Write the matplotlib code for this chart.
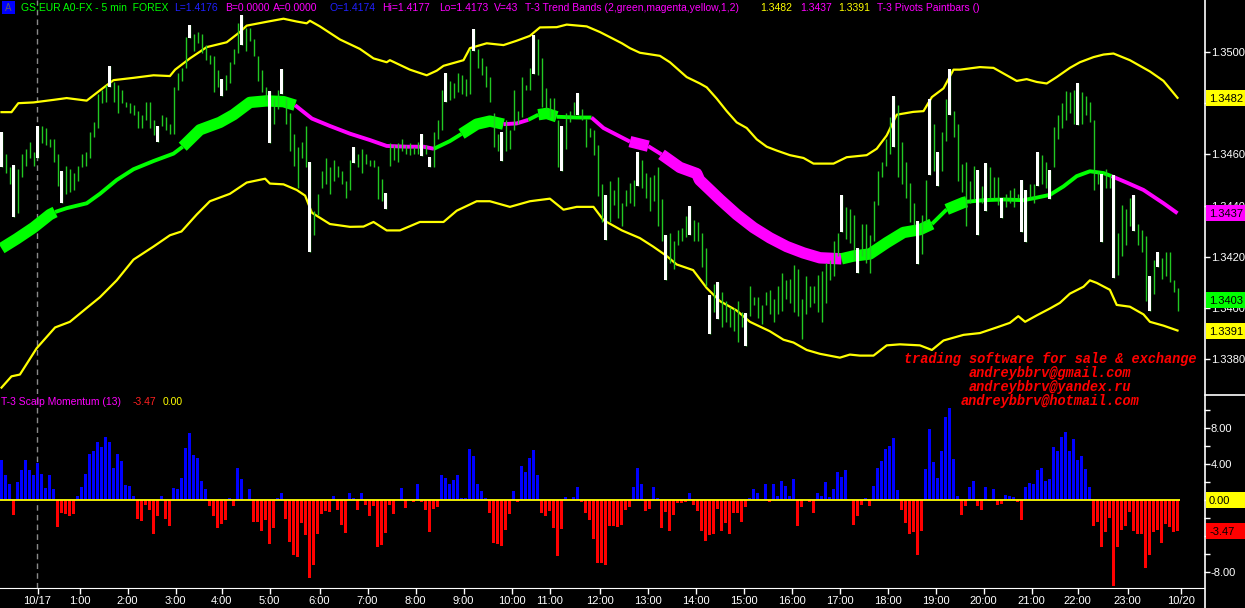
import matplotlib
matplotlib.use("Agg")
import matplotlib.pyplot as plt
from matplotlib.patches import Rectangle
import numpy as np

plt.rcParams['font.family'] = ['Liberation Sans', 'DejaVu Sans']

# ---------------- data (prices in pips relative to BASE) ----------------
BASE = 1.3400
HIGH = [68.9, 60, 54.9, 55.9, 54.2, 60, 62.2, 64.7, 60.8, 71.1,
        71.1, 70.3, 65.9, 65.9, 60, 53.4, 55.6, 54.2, 52.7, 55.6,
        60, 60.8, 68.9, 72.5, 83.5, 85, 87.2, 94.6, 88.3, 87.2,
        85, 80.6, 79.9, 79.1, 76.9, 75.5, 80.6, 80.6, 73.3, 71.1,
        75.5, 74.7, 71.8, 86.5, 91.6, 93.8, 105.9, 110.7, 107.1, 107.8,
        107.1, 102.7, 99, 98.3, 93.1, 89.4, 90.9, 96, 101.2, 111.5,
        114.4, 109.3, 109.3, 104.9, 98.3, 93.1, 86.5, 84.6, 82.1, 85,
        93.5, 82.1, 76.2, 68.1, 63, 64.7, 71.1, 57.1,
        38, 44.6, 53.4, 58.6, 54.9, 57.8, 55.6, 53.4, 49.7, 57.8,
        63, 60, 62.2, 60, 57.8, 57.8, 55.6, 50.5, 45, 64.4,
        63.7, 64.4, 65.9, 63.7, 64.4, 63, 64.7, 68.1, 63.7, 58.9,
        68.9, 73.3, 85, 91.6, 88.7, 88, 91.6, 90.9, 89.4, 101.2,
        108.8, 101.2, 97.5, 94.6, 90.2, 76.2, 68.1, 68.9, 73.3, 69.6,
        85, 76.9, 90.2, 87.2, 93.8, 106.8, 104.9, 97.5, 85.8, 82.1,
        82.1, 73.3, 71.1, 76.2, 76.9, 80.6, 83.8, 77.7, 74, 70.3,
        69.6, 63.7, 48.3, 44.2, 49.7, 46.1, 51.2, 40.9,
        46.1, 49, 50, 60.8, 57.8, 52.7, 51.2, 52, 54.9, 42.4,
        28.7, 29.2, 26.2, 30.6, 31.4, 35.8, 39.7, 34.3, 33.6, 29.2,
        23.3, 4.9, 9.3, 10.1, 6.4, 2.7, 0.5, -0.2, 2.7, -1.7,
        -2, 8.6, 4.2, 4.2, 1, 6.4, 7.1, 3.4, 8.6, 13.7,
        10.8, 11.5, 16.7, 15.2, 3.4, 12.3, 8.6, 8.6, 13, 14.5,
        17.4, 18.9, 26.2, 29.2, 44.2, 39.5, 38.7, 36.5, 23.3, 32.8,
        32.8, 28.4, 41.7, 53.4, 57.1, 65.9, 74.7, 82.8, 79.1, 64.7,
        57.1, 49, 40.9, 33.9, 36.5, 50, 81.8,
        71.8, 60.8, 68.9, 81.8, 93.5, 76.9, 71.8, 56.4, 57.1, 49.7,
        55.6, 53.9, 47.5, 56.8, 54.9, 51.2, 51.2, 43.1, 44.6, 46.1,
        46.8, 44.6, 50, 46.1, 48.3, 48.3, 60.8, 59.7, 57.1, 53.9,
        70.6, 75.5, 79.9, 84.6, 84.3, 85, 88, 84.3, 82.8, 80.6,
        73.3, 53.4, 52.4, 54.2, 51.2, 51.9, 29.2, 40.2, 38.7, 43.1,
        44.2, 32.8, 30.6, 28, 12.3, 18.9, 21.8, 19.6, 21.8, 21.8,
        10.8, 7.9]
LOW = [54.9, 52.7, 48.3, 35.5, 37.3, 51.2, 55.6, 58.6, 55.6, 58.6,
       64.4, 63.7, 63, 57.1, 47.5, 40.9, 44.6, 45.3, 46.1, 49.7,
       54.9, 55.6, 58.6, 66.6, 70.3, 79.9, 80.6, 86.5, 80.6, 76.2,
       79.9, 78.4, 76.2, 75.5, 70.3, 70.3, 73.3, 70.3, 67.4, 64.7,
       71.1, 69.6, 68.1, 68.1, 85, 88.7, 93.8, 105.6, 100.5, 103.4,
       99.7, 96.8, 95.3, 84.3, 86.5, 82.8, 85, 88, 95.3, 99.7,
       102.7, 100.5, 104.1, 98.3, 88.7, 84.3, 81.3, 64.4, 71.8, 77.7,
       83.5, 71.8, 61.5, 55.6, 46.8, 58.6, 54.9, 21.8,
       28.4, 36.5, 46.8, 48.3, 44.6, 49.7, 51.2, 48.3, 43.1, 46.1,
       56.8, 54.9, 52.7, 56.3, 55.6, 54.9, 42.4, 41.7, 38.7, 55.6,
       57.8, 57.1, 61.5, 60, 59.7, 60, 60, 59.3, 60, 54.9,
       54.9, 65.9, 69.6, 80.6, 81.3, 82.1, 84.3, 83.5, 82.8, 83.5,
       100.5, 93.8, 90.9, 86.5, 80.6, 63, 61.5, 57.4, 61.5, 62.2,
       69.6, 71.8, 74.7, 85, 85, 91.3, 90.9, 78.4, 77.7, 74.7,
       73.3, 54.9, 53.7, 62.2, 72.5, 75.5, 75.5, 73.3, 63, 66.6,
       59.7, 43.9, 33.6, 26.7, 33.6, 40.2, 35, 32.1,
       39.7, 40.9, 39.7, 47.8, 46.8, 43.1, 38, 41.7, 32.1, 26.2,
       10.8, 17.4, 15.2, 24.7, 26.2, 27.7, 28.4, 26.2, 26.2, 15.9,
       8.6, -10.2, -1.7, -4.4, -7.6, -5.4, -7.6, -9.1, -13.2, -7.6,
       -14.9, -3.2, 1.2, -3.9, -6.1, 1.2, -2.5, -5.4, -2.5, -1,
       3.4, 2, -1.7, -3.2, -12, -2.5, 0.5, 2, -1.7, -5.4,
       2, 10.8, 12.3, 20.3, 29.6, 27, 25.5, 18.9, 13.7, 20.3,
       17.4, 13.7, 26.2, 40.2, 51.2, 55.6, 60, 62.7, 51.2, 48.3,
       43.1, 33.6, 32.1, 17, 21.1, 33.6, 52,
       53.4, 47.8, 53.4, 65.2, 75.5, 66.6, 49.7, 45.3, 32.1, 40.9,
       42.4, 28.4, 40.9, 37.7, 42.4, 43.1, 40.2, 35, 39.5, 40.9,
       39.5, 42.4, 29.6, 25.9, 43.1, 40.9, 47.8, 48.3, 46.8, 42.4,
       54.9, 65.9, 70.3, 73.3, 76.2, 71.8, 71.5, 71.8, 75.5, 72.5,
       46.1, 48.3, 25.8, 46.8, 46.8, 11.8, 13, 20.3, 24.7, 32.1,
       29.9, 24.7, 21.8, 2.7, -1, 5.6, 15.9, 11.5, 12.3, 10.1,
       6.4, -1]
PAINTBARS = [0, 3, 9, 15, 27, 39, 47, 55, 60, 67, 70, 77, 88, 96, 105, 107,
             111, 118, 125, 133, 140, 144, 151, 159, 166, 172, 177, 179, 186,
             210, 214, 223, 229, 232, 234, 237, 244, 246, 250, 255, 256, 259,
             262, 269, 275, 278, 283, 287, 289]

UP_X = [0, 2.5, 4.2, 8, 13, 16.3, 21.3, 24.6, 28, 33, 38, 42.1, 43.4, 47.1, 51.3,
        56.3, 59.6, 61.3, 66.3, 70.5, 73.8, 76.3, 77.1, 79.6, 84.6, 89.6, 93, 96.3,
        97.1, 102.1, 106.3, 108.8, 110.5, 115.5, 117.1, 121.3, 125.5, 128.8, 132.1,
        134.6, 138.8, 141.3, 146.3, 149.6, 155.1, 157.1, 159.6, 164.6, 167.1, 171.3,
        174.6, 176.3, 178.8, 181.3, 183.8, 186.3, 188.8, 191.3, 193.8, 197.1, 200.5,
        203, 208, 211.3, 216.3, 218.8, 221.3, 223.8, 227.9, 230.5, 232.6, 235.5, 238,
        239.6, 244.6, 248, 252.1, 253.8, 256.3, 258.8, 261.3, 263.8, 267.1, 269.6,
        273, 275.5, 278, 282.1, 287.1, 290.5, 294]
UP_P = [76.5, 76.5, 80, 80.3, 81.3, 82, 81, 85, 89, 89.9, 90.9, 90.6, 93.1, 97.5,
        101.9, 103.8, 107.8, 110.3, 111.8, 113, 111.9, 111.2, 112.2, 110, 104.9,
        101.2, 97.5, 96, 96.8, 93.1, 90.9, 92.7, 94.6, 96.8, 101.5, 103.4, 102.7,
        104.4, 106.3, 109.6, 109.7, 110.7, 110, 107.8, 103.4, 101.5, 99.7, 98.5, 96,
        90.2, 87.7, 86.2, 81.8, 76.9, 72.5, 70.3, 65.9, 63, 61.5, 59.7, 58.6, 56.4,
        56.4, 58.9, 59.7, 62.2, 67.4, 75.5, 76.6, 76.9, 82.4, 85.8, 93.1, 93.1, 94.1,
        93.8, 90.2, 88.7, 89.4, 88.3, 87.7, 90.2, 93.8, 96, 98, 99, 99.4, 96.8, 92.4,
        88.7, 82.1]
LO_X = [0, 2.5, 4.6, 8.8, 13.4, 17.1, 21.3, 24.6, 28.8, 33, 38, 42.1, 45, 48.8, 52.1,
        57.1, 61.3, 65.9, 67.1, 70.5, 73.8, 75.9, 77.6, 82.1, 87.1, 90.5, 93, 96.3,
        99.6, 104.6, 110.5, 113.8, 118.8, 122.1, 127.1, 132.1, 137.1, 140.5, 143.8,
        148, 150.5, 155.1, 159.6, 162.9, 166.3, 168.8, 172.9, 176.3, 179.6, 183.8,
        187.1, 192.1, 195.5, 198, 201.3, 204.6, 209.6, 212.1, 214.6, 218, 221.3,
        224.6, 229.6, 232.6, 235.5, 240.5, 244.6, 248.8, 252.1, 254.2, 255.9, 258.8,
        262.1, 264.6, 267.1, 270.5, 272.1, 273.8, 277.1, 278.8, 282.1, 285.5, 287.1,
        290.5, 294]
LO_P = [-31.1, -26.7, -26, -15.7, -7.6, -5.4, 0, 4.2, 10.8, 18.9, 24, 28.4, 29.9,
        36.5, 41.7, 44.6, 49, 50.5, 48.6, 48.3, 46.1, 43.9, 37.2, 32.8, 31.7, 31.8,
        33.6, 30.3, 30.3, 33.6, 33.6, 38, 41.7, 41.7, 39.5, 41.7, 42.7, 38.4, 39.5,
        39.5, 34.3, 30.3, 27.3, 24, 20.3, 17, 14.8, 7.8, 2.7, -1, -5.4, -9.1, -12.4,
        -13.5, -16.4, -17.9, -19.4, -18.2, -18.6, -18.6, -14.6, -14.2, -14.6, -16.4,
        -12.7, -10.5, -9.8, -7.6, -5.8, -3.2, -5.4, -2.9, -0.2, 2, 5.6, 8.3, 10.8,
        9.8, 7.1, 1.2, 0.5, -2.5, -5.4, -6.9, -8.8]
MID_X = [0, 3.8, 8, 12.1, 13.4, 16.3, 21.3, 24.6, 28.8, 33, 38, 43, 45.3, 49.6, 54.6,
         58, 62.1, 66.3, 70.5, 73.4, 77.6, 82.1, 87.1, 92.1, 96.3, 101.4, 105.5, 108.1,
         112.1, 115, 118.8, 122.1, 125.5, 128.8, 131.7, 134.2, 136.3, 138.8, 143.8,
         147.5, 150.5, 155.1, 157.1, 161.7, 165, 169.6, 173.8, 174.5, 179.6, 183.8,
         188, 192.1, 196.3, 200.5, 204.6, 210, 213, 217.1, 221.3, 225.5, 229.6, 232.6,
         236.3, 240.5, 241.3, 245.5, 250.5, 255.5, 258.8, 262.1, 265.5, 268.8, 272.1,
         275.5, 277.5, 281.3, 285.5, 290.5, 294]
MID_P = [23.3, 27, 31.4, 36.5, 37.5, 39, 40.9, 44.6, 50, 54.2, 57.4, 60.3, 63, 69.6,
         72.5, 75.5, 80.3, 80.9, 80.6, 79.2, 74, 71.1, 68.1, 65.6, 63.3, 63, 63, 62.2,
         65.2, 68, 71.8, 73, 71.8, 72.1, 73.5, 75.5, 76, 74.7, 74.4, 74.4, 70.3, 66.6,
         65, 63.2, 60, 54.9, 52.5, 50, 42.4, 36.5, 31.4, 27.4, 24, 21.5, 19.6, 19.2,
         20.3, 21.1, 25.5, 29.5, 30.6, 32.8, 38.5, 41.2, 41.5, 42.1, 42.4, 42.1, 43.1,
         44.2, 47.5, 51.5, 53.4, 52.7, 51.5, 49, 46.1, 40.9, 37]
# trend state of the middle band from a given bar on: G=up, M=down, T=strong
MID_STATE = [(0, 'GT'), (13.4, 'G'), (45.3, 'GT'), (73.4, 'M'), (108.1, 'G'),
             (115, 'GT'), (125.5, 'M'), (131.7, 'G'), (134.2, 'GT'), (138.8, 'G'),
             (147.5, 'M'), (157.1, 'MT'), (161.7, 'M'), (165, 'MT'), (210, 'GT'),
             (232.6, 'G'), (236.3, 'GT'), (241.3, 'G'), (277.5, 'M')]

MOMENTUM = [4.4, 2.8, 1.8, -1.7, 2.0, 3.3, 4.5, 3.3, 2.8, 4.1, 2.9, 1.3, 2.8, 1.2,
            -3.0, -1.4, -1.5, -1.8, -1.5, 0.4, 1.4, 2.9, 5.1, 5.4, 6.5, 5.9, 7.0, 6.5,
            3.6, 5.1, 4.3, 1.7, 1.6, 0.4, -2.1, -2.3, -0.5, -1.1, -3.8, -1.8, 0.4,
            -2.1, -2.9, 1.3, 1.2, 2.5, 5.8, 7.5, 5.0, 4.7, 2.1, 1.2, -0.7, -1.8, -3.1,
            -2.7, -2.2, 0.25, -0.7, 3.6, 2.3, 0, 1.2, -2.4, -2.4, -3.4, -2.2, -4.9,
            -3.1, 0.25, 0.8, -2.1, -4.7, -6.1, -6.3, -2.5, -3.9, -8.7,
            -7.2, -3.8, -1.5, -1.2, -1.3, 0.4, -1.1, -2.8, -3.7, 0.75, 0.2, -1.1, 0.8,
            -0.6, -1.8, -0.7, -5.2, -5.0, -3.7, -0.6, -1.5, 0, 1.3, -0.9, 0, -0.2, 1.8,
            -0.2, -1.1, -3.6, -1.0, -0.8, 2.8, 2.5, 1.8, 2.2, 2.8, 0.2, 0.2, 5.7, 4.9,
            1.8, 1.0, 0.2, -1.4, -4.8, -4.9, -5.1, -3.3, -1.5, 1.0, -0.2, 3.8, 3.1, 4.7,
            5.6, 2.8, -1.4, -1.8, -1.2, -3.1, -6.2, -3.2, 0.3, 0, 0.3, 1.5, -0.2, -1.4,
            -2.2, -4.3, -7.0, -7.0, -7.2, -2.9, -2.9, -3.0, -2.8,
            -1.1, -0.8, 1.5, 3.6, 1.8, -1.2, -1.0, 1.4, 0.2, -3.1, -1.3, -3.4, -1.7,
            -0.3, -0.3, -0.2, 0.75, -0.5, -1.2, -3.4, -4.6, -3.9, -3.8, -1.0, -3.4,
            -2.5, -3.8, -1.4, -1.4, -2.4, -0.8, 0.25, 1.2, 0.8, 0, 1.8, -0.2, 1.8, 0.5,
            2.1, 1.6, 0.5, 2.3, -2.9, -0.8, 0, -0.2, -1.4, 0.75, 0.4, 2.0, 0.3, 1.2,
            3.1, 2.6, 3.3, 0, -2.8, -1.8, -0.5, 0.25, -0.7, 1.6, 3.6, 4.3, 5.7, 6.0,
            6.9, 1.1, -1.1, -2.5, -3.8, -3.6, -6.1, -3.4, 3.5, 7.9,
            4.2, 2.5, 5.4, 9.2, 10.2, 4.6, 0.4, -1.7, -0.7, 1.5, 2.1, -0.7, -1.1, 1.5,
            -0.1, 1.2, -0.5, -0.4, 0.6, 0.5, 0.3, -0.2, -2.2, 1.5, 1.9, 1.8, 3.3, 3.6,
            2.1, 2.3, 5.9, 5.5, 7.0, 7.6, 5.4, 6.8, 4.4, 4.9, 3.5, 1.5, -2.9, -2.4,
            -5.2, -3.6, -2.0, -9.5, -5.2, -3.3, -2.9, -1.3, -3.4, -3.8, -3.8, -7.5,
            -6.1, -3.6, -3.3, -4.8, -2.7, -3.0, -3.6, -3.47]

XTICK_POS = [9, 19.5, 31.5, 43.5, 55, 67, 79.5, 91.5, 103.5, 115.5, 127.5, 137,
             149.5, 161.5, 173.5, 185.5, 197.5, 209.5, 221.5, 233.5, 245.5, 257.5,
             269, 281.5, 294.9]
XTICK_LABELS = ['10/17', '1:00', '2:00', '3:00', '4:00', '5:00', '6:00', '7:00',
                '8:00', '9:00', '10:00', '11:00', '12:00', '13:00', '14:00', '15:00',
                '16:00', '17:00', '18:00', '19:00', '20:00', '21:00', '22:00',
                '23:00', '10/20']
DAY_BREAK = 8.9
PRICE_TICKS = [1.3380, 1.3400, 1.3420, 1.3440, 1.3460, 1.3480, 1.3500]
PRICE_LABELS = ['1.3380', '1.3400', '1.3420', '1.3440', '1.3460', '', '1.3500']
MOM_TICKS = [10, 8, 6, 4, 2, 0, -2, -4, -6, -8]
MOM_LABELS = ['', '8.00', '', '4.00', '', '', '', '', '', '-8.00']
LAST_UPPER, LAST_MID, LAST_LOWER, LAST_CLOSE = 1.3482, 1.3437, 1.3391, 1.3403
LAST_MOM = -3.47

# ---------------- figure ----------------
W, H = 1245, 608
fig = plt.figure(figsize=(W / 100, H / 100), dpi=100, facecolor='black')


def px_axes(x0, y0, x1, y1, **kw):
    return fig.add_axes([x0 / W, 1 - y1 / H, (x1 - x0) / W, (y1 - y0) / H], **kw)


ax1 = px_axes(0, 0, 1204, 394)
ax2 = px_axes(0, 394, 1204, 588)
for ax in (ax1, ax2):
    ax.set_facecolor('black')
    for s in ('left', 'top', 'bottom', 'right'):
        ax.spines[s].set_visible(False)
    ax.set_xlim(-0.375, 300.625)

GREEN_BAR = '#22c822'
BRIGHT_GREEN = '#00ff00'
MAGENTA = '#ff00ff'
YELLOW = '#ffff00'


def pip2p(v):
    return BASE + np.asarray(v, dtype=float) / 10000.0


ax1.set_ylim(pip2p(-33.6), pip2p(120.31))
ax2.set_ylim(-88 / 9, 106 / 9)

x = np.arange(len(HIGH))
hi = pip2p(HIGH)
lo = pip2p(LOW)

# bands
ax1.plot(UP_X, pip2p(UP_P), color=YELLOW, lw=1.6, zorder=2)
ax1.plot(LO_X, pip2p(LO_P), color=YELLOW, lw=1.6, zorder=2)

# middle band, drawn as runs by trend state
starts = [s for s, _ in MID_STATE]
mx = np.array(MID_X)
mp = pip2p(MID_P)
for k, (s0, st) in enumerate(MID_STATE):
    s1 = starts[k + 1] if k + 1 < len(starts) else 1e9
    idx = np.where((mx >= s0 - 1e-6) & (mx <= s1 + 1e-6))[0]
    col = BRIGHT_GREEN if st.startswith('G') else MAGENTA
    lw = 8.2 if st.endswith('T') else 2.8
    ax1.plot(mx[idx], mp[idx], color=col, lw=lw, solid_capstyle='butt',
             solid_joinstyle='round', zorder=3)

# price bars
ax1.vlines(x, lo, hi, color=GREEN_BAR, lw=1.0, zorder=4)
pb = np.array(PAINTBARS)
ax1.bar(pb, hi[pb] - lo[pb], bottom=lo[pb], width=0.72, color='white',
        linewidth=0, zorder=5)

# day break
for ax in (ax1, ax2):
    ax.axvline(DAY_BREAK, color='#8a8a8a', lw=1.0, dashes=(4, 3), zorder=1)

# momentum histogram
mom = np.array(MOMENTUM)
cols = np.where(mom >= 0, '#0000ff', '#ff0000')
ax2.bar(np.arange(len(mom)), mom, width=0.68, color=cols, linewidth=0, zorder=2)
ax2.hlines(0, -0.375, len(mom) - 0.4, color=YELLOW, lw=1.3, zorder=3)

# axes ticks
ax1.set_xticks([])
ax1.yaxis.tick_right()
ax1.set_yticks(PRICE_TICKS)
ax1.set_yticklabels(PRICE_LABELS)
ax1.tick_params(axis='y', colors='white', length=4, width=1, labelsize=8, pad=1)

ax2.yaxis.tick_right()
ax2.set_yticks(MOM_TICKS)
ax2.set_yticklabels(MOM_LABELS)
ax2.tick_params(axis='y', colors='white', length=4, width=1, labelsize=8, pad=1)
ax2.set_xticks(XTICK_POS)
ax2.set_xticklabels(XTICK_LABELS)
ax2.tick_params(axis='x', colors='white', length=4, width=1, labelsize=8, pad=1.5)
ax2.spines['bottom'].set_visible(True)
ax2.spines['bottom'].set_color('white')

# ---------------- overlay: frame lines, value boxes and texts ----------------
ov = fig.add_axes([0, 0, 1, 1], zorder=10)
ov.set_xlim(0, W)
ov.set_ylim(H, 0)
ov.axis('off')
ov.patch.set_visible(False)
ov.plot([1204.5, 1204.5], [0, H], color='white', lw=1.2)
ov.plot([1204.5, W], [394.5, 394.5], color='white', lw=1.2)


def value_box(ax, y, txt, fc):
    ypx = H - ax.transData.transform((0, y))[1]
    ov.add_patch(Rectangle((1205.5, ypx - 8), 40, 16, fc=fc, ec='none', zorder=5))
    ov.text(1209, ypx + 0.5, txt, fontsize=8, color='black', ha='left',
            va='center', zorder=6)


value_box(ax1, LAST_UPPER, '%.4f' % LAST_UPPER, YELLOW)
value_box(ax1, LAST_MID, '%.4f' % LAST_MID, MAGENTA)
value_box(ax1, LAST_CLOSE, '%.4f' % LAST_CLOSE, BRIGHT_GREEN)
value_box(ax1, LAST_LOWER, '%.4f' % LAST_LOWER, YELLOW)
value_box(ax2, 0.0, '0.00', YELLOW)
value_box(ax2, LAST_MOM, '%.2f' % LAST_MOM, '#ff0000')

# header
ov.add_patch(Rectangle((2, 1), 13, 13, fc='#0000ff', ec='none'))
ov.text(8.5, 7.8, 'A', color='#606060', fontsize=7, ha='center', va='center')
HEADER = [(21, 'GS:EUR A0-FX - 5 min  FOREX', BRIGHT_GREEN),
          (174, 'L=1.4176', '#2020ff'), (225, 'B=0.0000', MAGENTA),
          (273, 'A=0.0000', MAGENTA), (329, 'O=1.4174', '#2020ff'),
          (382, 'Hi=1.4177', MAGENTA), (439, 'Lo=1.4173', MAGENTA),
          (494, 'V=43', MAGENTA),
          (525, 'T-3 Trend Bands (2,green,magenta,yellow,1,2)', MAGENTA),
          (760, '1.3482', YELLOW), (800, '1.3437', MAGENTA), (838, '1.3391', YELLOW),
          (877, 'T-3 Pivots Paintbars ()', MAGENTA)]
for hx, t, c in HEADER:
    ov.text(hx, 8, t, color=c, fontsize=7.5, ha='left', va='center')

MOM_HEADER = [(1, 'T-3 Scalp Momentum (13)', MAGENTA), (133, '-3.47', '#ff2020'),
              (163, '0.00', YELLOW)]
for hx, t, c in MOM_HEADER:
    ov.text(hx, 402, t, color=c, fontsize=7.5, ha='left', va='center')

PROMO = ['trading software for sale & exchange', 'andreybbrv@gmail.com',
         'andreybbrv@yandex.ru', 'andreybbrv@hotmail.com']
for t, yy in zip(PROMO, [359, 372.5, 387, 401]):
    ov.text(1050, yy, t, color='#ff0000', fontsize=9.8, ha='center', va='center',
            family=['Liberation Mono', 'DejaVu Sans Mono'], style='italic',
            weight='bold')

fig.savefig('out.png', dpi=100, facecolor='black')
